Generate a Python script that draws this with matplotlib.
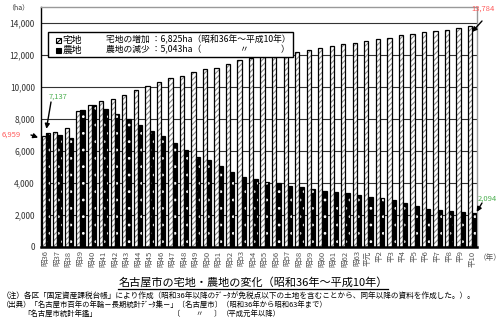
import numpy as np
import matplotlib
matplotlib.use('Agg')
import matplotlib.pyplot as plt
from matplotlib.patches import Rectangle
from matplotlib.lines import Line2D

plt.rcParams['font.family'] = ['Noto Sans CJK JP', 'DejaVu Sans']
plt.rcParams['hatch.linewidth'] = 0.8

# 年次 (昭和36年～平成10年)
years = ['昭36', '昭37', '昭38', '昭39', '昭40', '昭41', '昭42', '昭43', '昭44', '昭45',
         '昭46', '昭47', '昭48', '昭49', '昭50', '昭51', '昭52', '昭53', '昭54', '昭55',
         '昭56', '昭57', '昭58', '昭59', '昭60', '昭61', '昭62', '昭63', '平元', '平2',
         '平3', '平4', '平5', '平6', '平7', '平8', '平9', '平10']

# 宅地面積 (ha)
residential = [6959, 7170, 7460, 8500, 8870, 9150, 9270, 9500, 9790, 10060,
               10330, 10540, 10690, 10960, 11100, 11210, 11460, 11670, 11790, 11940,
               12060, 12150, 12210, 12310, 12420, 12560, 12670, 12770, 12900, 13000,
               13080, 13250, 13310, 13420, 13500, 13560, 13670, 13784]

# 農地面積 (ha)
farmland = [7137, 7000, 6790, 8540, 8870, 8620, 8290, 8000, 7620, 7250,
            6920, 6470, 6060, 5650, 5440, 5060, 4710, 4400, 4270, 4080,
            3980, 3830, 3730, 3650, 3520, 3440, 3350, 3270, 3150, 3040,
            2920, 2730, 2560, 2400, 2310, 2250, 2190, 2094]

W, H = 500, 326


def fpx(x, y):
    # pixel position (from top-left) -> figure fraction
    return x / W, 1 - y / H


fig = plt.figure(figsize=(W / 100, H / 100), dpi=100)
ax = fig.add_axes([41 / W, 1 - 247 / H, 436 / W, 240 / H])

x = np.arange(len(years))
w = 0.37
ax.bar(x - w / 2, residential, w, color='white', edgecolor='#8c8c8c', hatch='//////', linewidth=0, zorder=2)
ax.bar(x - w / 2, residential, w, fill=False, edgecolor='black', linewidth=0.9, zorder=3)
ax.bar(x + w / 2, farmland, w, color='black', edgecolor='white', hatch='..', linewidth=0, zorder=2)
ax.bar(x + w / 2, farmland, w, fill=False, edgecolor='black', linewidth=0.9, zorder=3)

ax.set_xlim(-0.42, len(years) - 1 + 0.42)
ax.set_ylim(0, 15000)
ax.set_yticks(range(0, 15000, 2000))
ax.set_yticklabels([f'{v:,}' for v in range(0, 15000, 2000)])
ax.set_xticks(x)
ax.set_xticklabels(years, rotation=90, fontsize=5.5, color='#555555')
ax.tick_params(axis='y', length=0, pad=4.5, labelsize=6, labelcolor='#333333')
ax.tick_params(axis='x', length=0, pad=2.5)
ax.set_axisbelow(True)
ax.yaxis.grid(True, color='#333333', linewidth=0.8)

ax.spines['left'].set_color('black')
ax.spines['left'].set_linewidth(1.0)
ax.spines['bottom'].set_color('black')
ax.spines['bottom'].set_linewidth(1.8)
for s in ('top', 'right'):
    ax.spines[s].set_color('#999999')
    ax.spines[s].set_linewidth(1.0)

# 始点・終点の値と矢印
arrow = dict(arrowstyle='-|>', color='black', lw=1.0, mutation_scale=7,
             shrinkA=0, shrinkB=0)


def pointer(label, color, text_at, tail_at, target):
    fig.text(*fpx(*text_at), label, fontsize=5.5, color=color,
             ha='center', va='center', zorder=8)
    ax.annotate('', xy=target, xycoords='data', xytext=(tail_at[0], H - tail_at[1]),
                textcoords='figure pixels', arrowprops=arrow,
                annotation_clip=False, zorder=8)


pointer('6,959', '#ff5a5a', (11, 135), (31, 135), (-w - 0.3, residential[0] - 120))
pointer('7,137', '#4caf50', (58, 97), (51, 102), (0.05, farmland[0] + 250))
pointer('13,784', '#ff5a5a', (483, 9), (482, 21), (x[-1] - 0.02, residential[-1] - 350))
pointer('2,094', '#4caf50', (487, 199), (482, 203), (x[-1] + w + 0.02, farmland[-1] + 100))

fig.text(*fpx(18, 7), '（ha）', fontsize=5, color='#333333', ha='center', va='center')
fig.text(*fpx(490, 258), '（年）', fontsize=5.5, color='#555555', ha='center', va='center')

# 凡例と増減の説明
ax.add_patch(Rectangle(fpx(48, 57), 245 / W, 25 / H, transform=fig.transFigure,
                       facecolor='white', edgecolor='black', linewidth=1.0,
                       zorder=5, clip_on=False))
ax.add_patch(Rectangle(fpx(56, 43), 5 / W, 5 / H, transform=fig.transFigure,
                       facecolor='white', edgecolor='black', hatch='//////',
                       linewidth=0.8, zorder=6, clip_on=False))
ax.add_patch(Rectangle(fpx(56, 53), 5 / W, 5 / H, transform=fig.transFigure,
                       facecolor='black', edgecolor='black', linewidth=0.8,
                       zorder=6, clip_on=False))
fig.text(*fpx(63, 40), '宅地', fontsize=7, va='center', zorder=7)
fig.text(*fpx(63, 50), '農地', fontsize=7, va='center', zorder=7)
fig.text(*fpx(106, 40), '宅地の増加 ：6,825ha（昭和36年～平成10年）', fontsize=6.3, va='center', zorder=7)
fig.text(*fpx(106, 50), '農地の減少 ：5,043ha（', fontsize=6.3, va='center', zorder=7)
fig.text(*fpx(240, 50), '〃', fontsize=6.3, va='center', zorder=7)
fig.text(*fpx(281, 50), '）', fontsize=6.3, va='center', zorder=7)

# 表題
fig.text(*fpx(253, 282), '名古屋市の宅地・農地の変化（昭和36年～平成10年）',
         fontsize=8, ha='center', va='center')
fig.add_artist(Line2D([118 / W, 388 / W], [1 - 289 / H, 1 - 289 / H],
                      transform=fig.transFigure, color='black', linewidth=0.9))

# 注記・出典
fig.text(*fpx(2, 296), '（注）各区「固定資産課税台帳」により作成（昭和36年以降のﾃﾞｰﾀが免税点以下の土地を含むことから、同年以降の資料を作成した。）。',
         fontsize=5.5, va='center')
fig.text(*fpx(2, 305), '（出典）「名古屋市百年の年輪－長期統計ﾃﾞｰﾀ集－」〔名古屋市〕（昭和36年から昭和63年まで）',
         fontsize=5.3, va='center')
fig.text(*fpx(23, 314), '「名古屋市統計年鑑」', fontsize=5.3, va='center')
fig.text(*fpx(173, 314), '〔', fontsize=5.3, va='center')
fig.text(*fpx(195, 314), '〃', fontsize=5.3, va='center')
fig.text(*fpx(214, 314), '〕', fontsize=5.3, va='center')
fig.text(*fpx(222, 314), '（平成元年以降）', fontsize=5.3, va='center')

fig.savefig('out.png', dpi=100)
